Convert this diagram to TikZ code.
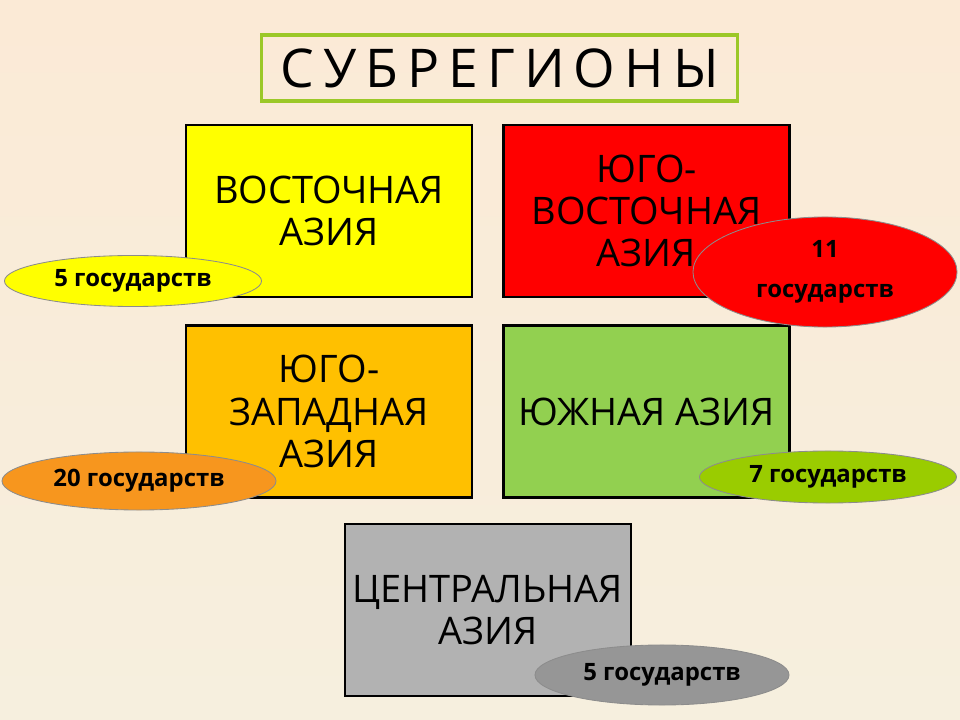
\documentclass[tikz,border=0pt]{standalone}
\usepackage{fontspec}
\setmainfont{Open Sans}
\usepackage{xcolor}
\usetikzlibrary{shapes.geometric, positioning}
\definecolor{bgtop}{RGB}{251,234,214}
\definecolor{bgbottom}{RGB}{246,239,222}
\definecolor{titleframe}{RGB}{155,200,40}
\definecolor{eastfill}{RGB}{255,255,0}
\definecolor{southeastfill}{RGB}{255,0,0}
\definecolor{southwestfill}{RGB}{255,192,0}
\definecolor{southfill}{RGB}{146,208,80}
\definecolor{centralfill}{RGB}{178,178,178}
\definecolor{swcount}{RGB}{247,150,30}
\definecolor{scount}{RGB}{154,204,0}
\definecolor{ccount}{RGB}{150,150,150}
\definecolor{countframe}{RGB}{140,140,140}
\newcommand{\lsp}{\hspace{0.17em}}
\tikzset{
    region/.style={
        rectangle,
        draw=black,
        line width=1.7pt,
        align=center,
        minimum width=7.15cm,
        minimum height=4.3cm,
        font=\fontsize{27}{30}\selectfont
    },
    count/.style={
        ellipse,
        draw=countframe,
        line width=0.6pt,
        inner sep=0pt,
        align=center,
        font=\fontsize{17}{28}\selectfont\bfseries
    },
    heading/.style={
        rectangle,
        draw=titleframe,
        line width=2.2pt,
        minimum width=11.875cm,
        minimum height=1.65cm,
        font=\fontsize{38}{40}\selectfont
    }
}
\begin{document}
\begin{tikzpicture}[x=0.025cm, y=-0.025cm]

% Background
\useasboundingbox (0,0) rectangle (960,720);
\shade[top color=bgtop, bottom color=bgbottom] (0,0) rectangle (960,720);

% Title
\node[heading] (title) at (499.5,68) {С\lsp У\lsp Б\lsp Р\lsp Е\lsp Г\lsp И\lsp О\lsp Н\lsp Ы};

% Subregions
\node[region, fill=eastfill] (east) at (329,211) {ВОСТОЧНАЯ\\АЗИЯ};
\node[region, fill=southeastfill, right=0.725cm of east] (southeast) {ЮГО-\\ВОСТОЧНАЯ\\АЗИЯ};
\node[region, fill=southwestfill, below=0.65cm of east] (southwest) {ЮГО-\\ЗАПАДНАЯ\\АЗИЯ};
\node[region, fill=southfill, right=0.725cm of southwest] (south) {ЮЖНАЯ АЗИЯ};
\node[region, fill=centralfill, below=0.6cm of southwest.south east, anchor=north, xshift=0.3625cm] (central) {ЦЕНТРАЛЬНАЯ\\АЗИЯ};

% Number of states
\node[count, fill=eastfill, minimum width=6.425cm, minimum height=1.275cm] (eastcount) at (133,281) {5 государств};
\node[count, fill=southeastfill, minimum width=6.6cm, minimum height=2.75cm] (southeastcount) at (825,272) {11\\государств};
\node[count, fill=swcount, minimum width=6.85cm, minimum height=1.45cm] (southwestcount) at (139,481) {20 государств};
\node[count, fill=scount, minimum width=6.425cm, minimum height=1.3cm] (southcount) at (828,477) {7 государств};
\node[count, fill=ccount, minimum width=6.35cm, minimum height=1.5cm] (centralcount) at (662,675) {5 государств};

\end{tikzpicture}
\end{document}
